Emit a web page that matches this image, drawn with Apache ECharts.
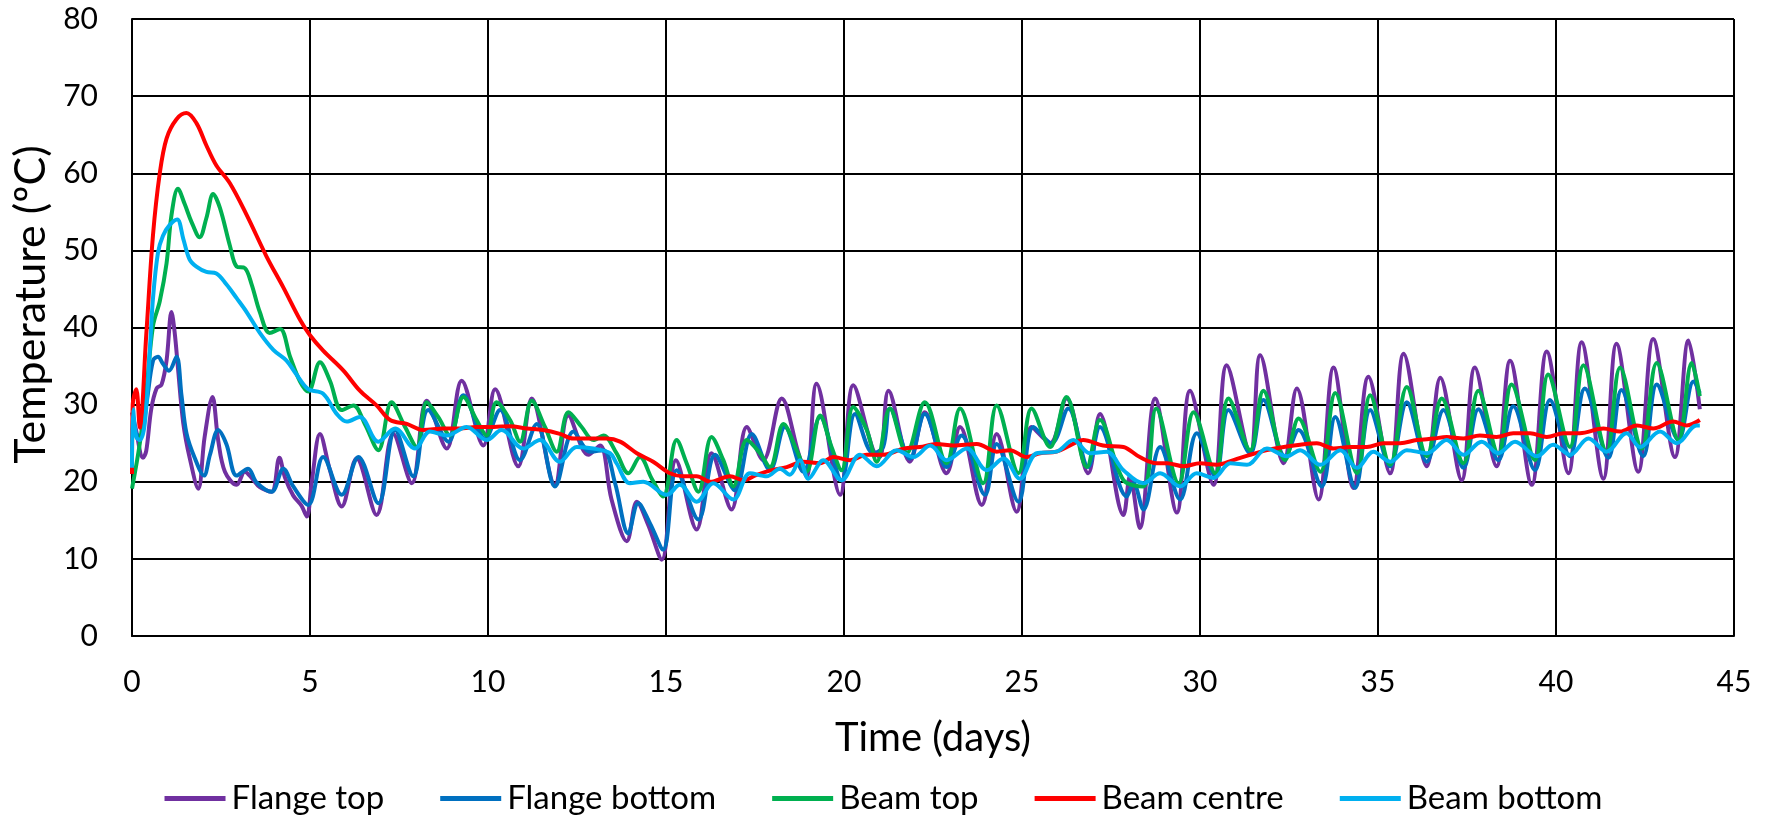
<!DOCTYPE html>
<html>
<head>
<meta charset="utf-8">
<title>Temperature</title>
<script src="https://cdn.jsdelivr.net/npm/echarts@6.0.0/dist/echarts.min.js"></script>
<style>
    html, body { margin: 0; padding: 0; background: #fff; }
    #tmpEchart { width: 1767px; height: 817px; }
</style>
</head>
<body>
<div id="tmpEchart"></div>
<script>
// [day, temperature]
var flangeTop = [[0,29],[0.1,27],[0.31,23.1],[0.4,24],[0.54,29.4],[0.69,32.1],[0.83,32.6],[0.97,35.7],[1.11,42],[1.2,39.3],[1.29,34.8],[1.44,27.6],[1.62,23.1],[1.86,19.1],[2.04,25.8],[2.26,31],[2.42,25.4],[2.61,21.3],[2.94,19.6],[3.17,21.3],[3.36,20.5],[3.59,19.3],[3.92,18.7],[4.14,23.1],[4.3,20.5],[4.53,18.2],[4.76,16.9],[4.91,15.5],[5.05,20],[5.28,26.2],[5.56,21.5],[5.89,16.8],[6.31,23],[6.87,15.7],[7.34,26.2],[7.86,19.8],[8.28,30.5],[8.84,24.3],[9.26,33.1],[9.87,24.7],[10.2,32],[10.85,22],[11.23,30.8],[11.88,19.6],[12.26,28.6],[12.82,23.5],[13.15,24.7],[13.47,17.7],[13.9,12.3],[14.18,17.4],[14.5,14.4],[14.88,9.9],[15.28,22.8],[15.86,13.8],[16.28,23.7],[16.84,16.4],[17.27,27.1],[17.73,22.8],[18.25,30.8],[18.72,23.7],[18.95,20.7],[19.23,32.7],[19.89,18.3],[20.26,32.5],[20.82,24.1],[21.01,23.2],[21.25,31.8],[21.85,22.6],[22.27,29],[22.88,21.1],[23.26,27.1],[23.87,17],[24.29,26.2],[24.85,16.1],[25.27,27.1],[25.79,25],[26.25,30.8],[26.86,21.1],[27.19,28.8],[27.85,15.7],[28.03,20.7],[28.31,14],[28.74,30.8],[29.35,16],[29.72,31.8],[30.38,19.6],[30.75,35.1],[31.41,23.7],[31.69,36.4],[32.35,22.4],[32.72,32.1],[33.33,17.7],[33.75,34.8],[34.31,19.2],[34.73,33.6],[35.34,21.1],[35.72,36.6],[36.37,22],[36.75,33.5],[37.35,20.2],[37.72,34.8],[38.33,22],[38.71,35.7],[39.32,19.6],[39.74,36.9],[40.35,21.1],[40.72,38.1],[41.33,20.4],[41.7,37.9],[42.31,21.3],[42.73,38.5],[43.34,23.2],[43.72,38.3],[44.04,29.4]];

var flangeBottom = [[0,27],[0.22,25.8],[0.41,30.3],[0.59,35.7],[0.73,36.2],[0.87,35.3],[1.04,34.4],[1.25,36.2],[1.39,31.2],[1.53,26.3],[1.76,23.1],[2.02,20.8],[2.19,23.5],[2.42,26.7],[2.65,24.9],[2.94,20.8],[3.26,21.7],[3.5,19.9],[3.92,18.7],[4.25,21.7],[4.53,19.4],[4.95,17],[5.37,23.2],[5.89,18.3],[6.36,23.2],[6.92,17.2],[7.39,26.7],[7.9,20.7],[8.32,29.3],[8.89,25.2],[9.31,31.2],[9.92,25.6],[10.34,29.3],[10.9,22.8],[11.37,27.5],[11.88,19.4],[12.4,26.5],[12.87,23.9],[13.24,24.1],[13.57,19.8],[13.94,13.3],[14.22,17.2],[14.55,14.6],[14.92,11.2],[15.3,21.5],[15.91,15.1],[16.38,23.5],[16.94,18.9],[17.41,26.2],[17.92,21.5],[18.34,27.1],[18.86,21.3],[19.33,28.4],[19.93,20.2],[20.31,28.8],[20.82,23.7],[21.1,24.5],[21.29,29.5],[21.85,23],[22.27,28.8],[22.88,21.9],[23.3,26],[23.96,18.3],[24.29,24.9],[24.9,17.4],[25.32,27.1],[25.83,25],[26.3,29.5],[26.86,21.9],[27.19,27.1],[27.94,18.1],[28.13,19.8],[28.41,16.4],[28.88,24.5],[29.44,17.7],[29.91,26.3],[30.43,20.7],[30.8,29.3],[31.41,23.7],[31.78,30.6],[32.39,23.3],[32.77,26.7],[33.42,19.4],[33.8,28.4],[34.36,19.2],[34.78,29.3],[35.34,22],[35.81,30.3],[36.37,22.6],[36.84,29.3],[37.4,21.8],[37.82,29.4],[38.38,22.8],[38.8,29.8],[39.41,21.5],[39.83,30.6],[40.39,23.3],[40.81,32.1],[41.47,23.1],[41.84,31.9],[42.45,23.3],[42.83,32.6],[43.44,25.4],[43.86,33],[44.04,31.5]];

var beamTop = [[0,19.1],[0.22,25],[0.4,31.7],[0.59,40.2],[0.78,43.4],[0.97,48.3],[1.11,54.6],[1.29,58],[1.48,56],[1.67,53.7],[1.9,51.7],[2.09,54.2],[2.28,57.3],[2.47,55.5],[2.75,50.6],[2.94,47.9],[3.17,47.7],[3.36,45.6],[3.59,42],[3.87,39.3],[4.16,39.8],[4.44,36.2],[4.72,33],[4.95,31.7],[5.28,35.5],[5.56,33.1],[5.89,29.3],[6.22,29.9],[6.54,27.5],[6.92,24.1],[7.29,30.3],[7.67,27.1],[8.0,24.5],[8.28,30.3],[8.6,28.4],[8.93,26],[9.31,31],[9.68,28],[9.96,26],[10.24,30.3],[10.62,28],[10.9,25.2],[11.23,30.5],[11.6,27.1],[11.93,23.9],[12.26,29],[12.63,27.1],[12.96,25.4],[13.24,26],[13.61,23.7],[13.94,21.1],[14.27,23.2],[14.6,20.4],[14.92,18.1],[15.3,25.4],[15.58,22.4],[15.91,18.7],[16.28,25.8],[16.61,22.8],[16.89,19.4],[17.27,25.4],[17.64,23.7],[17.92,21.9],[18.3,27.5],[18.67,24.1],[18.95,21.3],[19.33,28.6],[19.65,24.5],[19.93,21.5],[20.26,29.7],[20.64,26.7],[20.92,22.6],[21.29,29.5],[21.76,23.7],[22.27,30.3],[22.88,22.4],[23.26,29.5],[23.91,19.8],[24.29,29.9],[24.9,21.1],[25.27,29.5],[25.79,24.5],[26.25,31],[26.82,21.9],[27.19,28],[27.85,20.2],[28.41,19.4],[28.77,29.5],[29.4,19.8],[29.82,29],[30.43,21.1],[30.8,30.8],[31.41,24.1],[31.78,31.8],[32.39,22.8],[32.77,28.2],[33.38,21.3],[33.8,31.5],[34.41,21.1],[34.78,31.2],[35.34,22.2],[35.81,32.3],[36.37,23.3],[36.79,30.8],[37.4,22.4],[37.82,31.8],[38.38,23.6],[38.75,32.6],[39.41,22.8],[39.78,33.9],[40.39,24.5],[40.77,35.1],[41.42,23.9],[41.8,34.8],[42.41,24.3],[42.83,35.4],[43.44,25.4],[43.81,35.4],[44.04,31.1]];

var beamCentre = [[0,21],[0.02,30],[0.12,32],[0.22,27],[0.4,39],[0.59,52],[0.78,60],[0.97,64.5],[1.25,67],[1.53,67.8],[1.81,66.5],[2.09,63.6],[2.37,61],[2.75,58.7],[3.22,54.6],[3.78,49.2],[4.25,45.2],[4.72,41],[5.0,39],[5.37,37],[5.94,34.4],[6.4,31.8],[6.87,29.9],[7.25,28],[7.72,27.5],[8.18,26.7],[8.75,26.9],[9.21,26.9],[9.68,27.1],[10.15,27.1],[10.62,27.2],[11.09,26.9],[11.55,26.7],[12.02,26.2],[12.4,25.6],[12.96,25.6],[13.33,25.6],[13.71,25.2],[14.18,23.7],[14.64,22.6],[15.11,21.1],[15.49,20.7],[15.86,20.7],[16.24,20],[16.8,20.7],[17.17,20.2],[17.55,20.9],[17.97,21.5],[18.39,21.9],[18.86,22.6],[19.33,22.4],[19.7,23.2],[20.17,22.8],[20.64,23.5],[21.1,23.5],[21.67,24.3],[22.13,24.5],[22.6,24.9],[23.07,24.7],[23.73,24.9],[24.29,23.9],[24.66,24.1],[25.13,23.2],[25.51,23.7],[25.97,23.9],[26.35,24.7],[26.72,25.4],[27.28,24.7],[27.85,24.5],[28.31,23.2],[28.78,22.4],[29.07,22.4],[29.54,22],[30.0,22.4],[30.47,22.2],[30.94,22.8],[31.41,23.5],[31.88,24.1],[32.35,24.5],[32.81,24.8],[33.28,25],[33.75,24.3],[34.22,24.5],[34.69,24.5],[35.15,25],[35.62,25],[36.09,25.4],[36.56,25.6],[36.93,25.8],[37.4,25.6],[37.86,26],[38.33,25.8],[38.8,26.3],[39.27,26.3],[39.74,25.8],[40.21,26.3],[40.67,26.3],[41.33,26.9],[41.8,26.5],[42.27,27.3],[42.73,26.9],[43.29,27.8],[43.67,27.3],[44.04,28]];

var beamBottom = [[0,21.8],[0.03,29.4],[0.12,25.8],[0.22,25.4],[0.36,27.6],[0.5,37],[0.59,43.8],[0.73,49.7],[0.87,51.9],[1.06,53.3],[1.27,54],[1.44,51.5],[1.62,48.8],[1.81,47.9],[2.09,47.2],[2.37,47],[2.65,45.6],[2.94,43.8],[3.22,42],[3.59,39.3],[3.97,37.1],[4.34,35.7],[4.62,33.9],[4.95,32],[5.37,31.4],[5.75,28.8],[6.03,27.8],[6.4,28.4],[6.92,25.2],[7.39,26.9],[7.95,24.3],[8.37,26.5],[8.84,26],[9.4,27.1],[9.96,25.4],[10.38,26.7],[10.99,24.3],[11.46,25.4],[12.02,22.6],[12.49,24.5],[12.96,24.3],[13.43,23.7],[13.61,22.4],[13.99,19.8],[14.36,20],[15.02,18.3],[15.39,19.6],[15.86,17.4],[16.33,19.8],[16.89,17.7],[17.36,21.1],[17.83,20.7],[18.2,21.7],[18.48,20.9],[18.76,22.8],[19.0,20.4],[19.42,22.8],[19.93,20.2],[20.45,23.5],[20.92,22],[21.48,24.1],[21.95,23.2],[22.42,24.7],[22.88,22.8],[23.45,24.3],[24.01,21.5],[24.48,23],[24.94,20.4],[25.41,23.7],[25.97,23.9],[26.44,25.4],[26.91,23.7],[27.38,23.9],[27.85,21.5],[28.41,19.8],[28.88,21.1],[29.44,19.4],[29.91,21.1],[30.38,20.5],[30.85,22.4],[31.32,22.2],[31.88,24.3],[32.44,23.3],[32.81,24.1],[33.38,22.2],[33.94,24.1],[34.41,21.8],[34.87,23.9],[35.34,22.6],[35.81,24.1],[36.37,23.7],[36.93,25.4],[37.4,23.5],[37.91,25.2],[38.38,23.7],[38.85,25.2],[39.46,23.3],[39.92,24.8],[40.39,23.5],[40.91,25.6],[41.42,23.9],[41.98,26.3],[42.36,24.5],[42.92,26.5],[43.39,25],[43.95,27.3],[44.04,27.3]];

var legendName = ['Flange top', 'Flange bottom', 'Beam top', 'Beam centre', 'Beam bottom'];
var colors = ['#7030A0', '#0070C0', '#00B050', '#FF0000', '#00B0F0'];
var xTicks = { min: 0, max: 45, interval: 5 };
var yTicks = { min: 0, max: 80, interval: 10 };

var fontName = 'Lato, "Open Sans", sans-serif';

var myChart = echarts.init(document.getElementById('tmpEchart'), null, { renderer: 'canvas' });

function makeSeries(i, data) {
    return {
        name: legendName[i],
        type: 'line',
        data: data,
        smooth: 0.35,
        symbol: 'none',
        showSymbol: false,
        animation: false,
        lineStyle: { color: colors[i], width: 4 },
        itemStyle: { color: colors[i] }
    };
}

var option = {
    backgroundColor: '#ffffff',
    animation: false,
    textStyle: { fontFamily: fontName, color: '#000' },
    grid: { left: 132, right: 33, top: 19, bottom: 181 },
    legend: {
        bottom: 2,
        left: 'center',
        padding: 0,
        data: legendName,
        icon: 'rect',
        itemWidth: 61,
        itemHeight: 5,
        itemGap: 56,
        textStyle: { fontSize: 33, color: '#000', fontFamily: fontName, padding: [0, 0, 0, 1] }
    },
    xAxis: {
        type: 'value',
        min: xTicks.min,
        max: xTicks.max,
        interval: xTicks.interval,
        name: 'Time (days)',
        nameLocation: 'middle',
        nameGap: 82,
        nameTextStyle: { fontSize: 40, color: '#000', fontFamily: fontName },
        axisLine: { show: true, lineStyle: { color: '#000', width: 2 } },
        axisTick: { show: false },
        axisLabel: { margin: 31, fontSize: 30, color: '#000', fontFamily: fontName },
        splitLine: { show: true, lineStyle: { color: '#000', width: 2 } }
    },
    yAxis: {
        type: 'value',
        min: yTicks.min,
        max: yTicks.max,
        interval: yTicks.interval,
        name: 'Temperature (ºC)',
        nameLocation: 'middle',
        nameGap: 77,
        // left padding lifts the rotated title a little, as in the original
        nameTextStyle: { fontSize: 43, color: '#000', fontFamily: fontName, padding: [0, 0, 0, 46] },
        axisLine: { show: true, lineStyle: { color: '#000', width: 2 } },
        axisTick: { show: false },
        axisLabel: { margin: 34, fontSize: 30, color: '#000', fontFamily: fontName },
        splitLine: { show: true, lineStyle: { color: '#000', width: 2 } }
    },
    series: [
        makeSeries(0, flangeTop),
        makeSeries(1, flangeBottom),
        makeSeries(2, beamTop),
        makeSeries(3, beamCentre),
        makeSeries(4, beamBottom)
    ]
};
myChart.setOption(option);
</script>
</body>
</html>
